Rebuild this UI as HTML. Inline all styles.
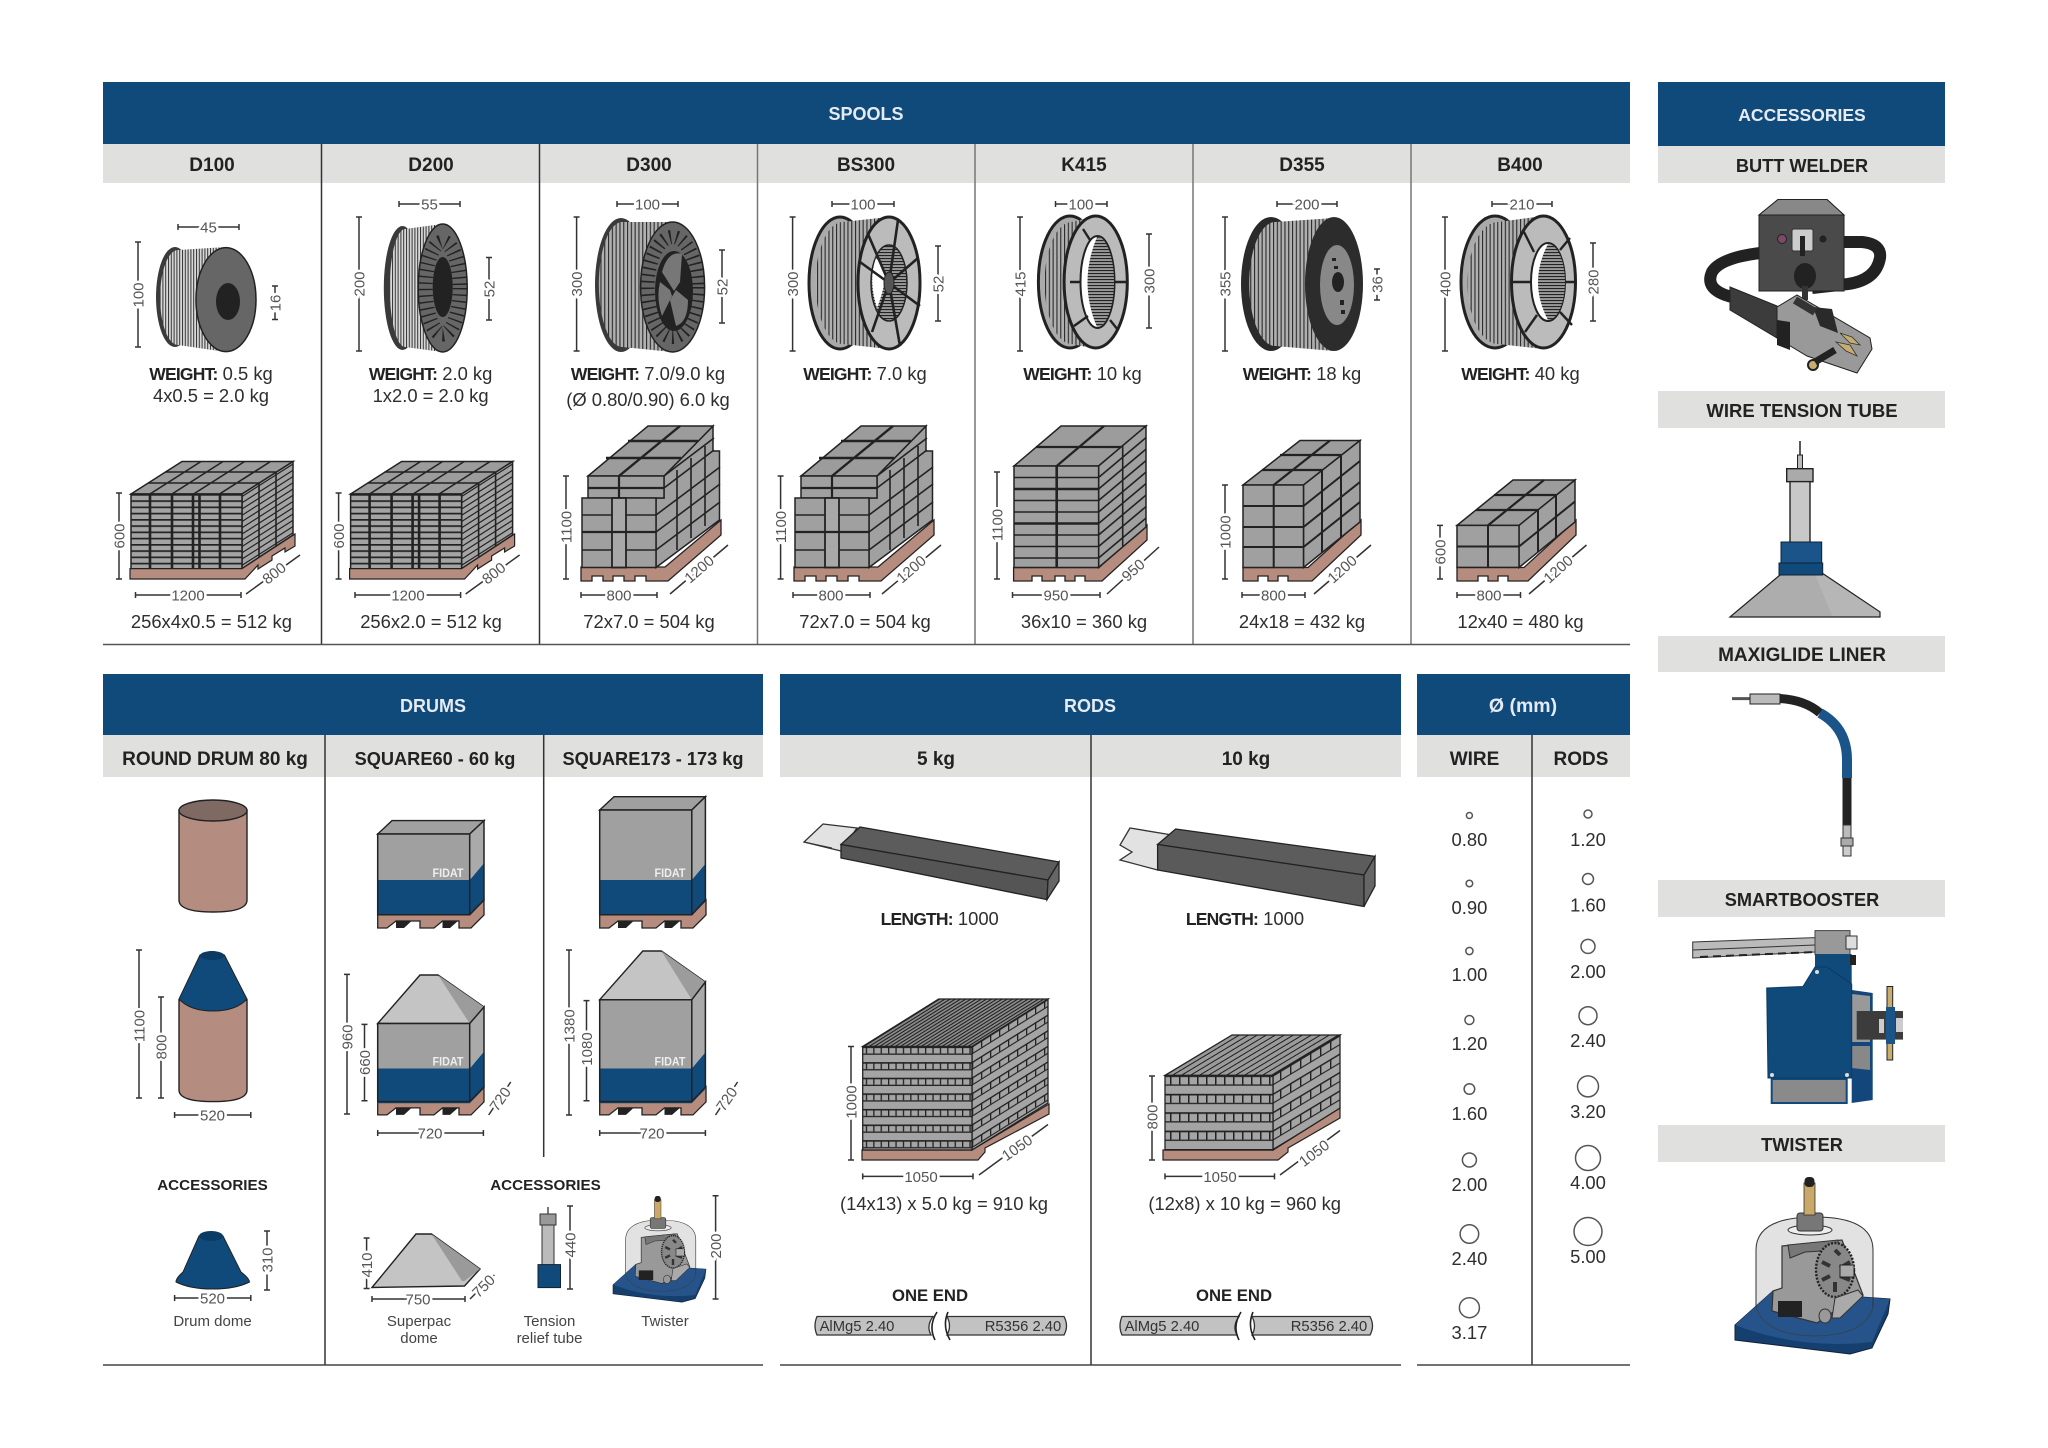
<!DOCTYPE html>
<html><head><meta charset="utf-8"><title>Packaging overview</title>
<style>
html,body{margin:0;padding:0;background:#fff}
svg{display:block}
text{font-family:"Liberation Sans",Arial,sans-serif;fill:#2e2e2e;text-anchor:middle}
.h{font-size:18px;font-weight:bold;fill:#e6ebf1}
.s{font-size:19px;font-weight:bold;fill:#222}
.s2{font-size:18.2px}
.t{font-size:18.4px}
.b{font-weight:bold;fill:#222;font-size:17.5px;letter-spacing:-.8px}
.a{font-size:15.2px;font-weight:bold;fill:#222}
.c{font-size:15px;fill:#444}
.dim{font-size:15px;fill:#555;paint-order:stroke;stroke:#fff;stroke-width:5px}
.d{stroke:#333;stroke-width:1.5;fill:none}
.l{stroke:#222;stroke-width:1.6;fill:none}
.ring{fill:#fff;stroke:#555;stroke-width:1.5}
.f{font-size:12px;font-weight:bold;fill:#eee}
</style></head><body>
<svg xmlns="http://www.w3.org/2000/svg" width="2048" height="1448" viewBox="0 0 2048 1448">
<defs>
<pattern id="r6" width="10" height="6.25" y="494" patternUnits="userSpaceOnUse"><rect width="10" height="6.25" fill="#a4a4a4"/><rect width="10" height="1.7" fill="#222"/></pattern>
<pattern id="s6" width="17" height="6.25" patternUnits="userSpaceOnUse" patternTransform="skewY(-32.5)"><rect width="17" height="6.25" fill="#a4a4a4"/><rect width="17" height="1.4" fill="#222"/></pattern>
<pattern id="w1" width="2.8" height="6" patternUnits="userSpaceOnUse"><rect width="2.8" height="6" fill="#d8d8d8"/><rect width="1" height="6" fill="#333"/></pattern>
<pattern id="w2" width="3.8" height="6" patternUnits="userSpaceOnUse"><rect width="3.8" height="6" fill="#b0b0b0"/><rect width="1.1" height="6" fill="#2a2a2a"/></pattern>
<pattern id="w4" width="3" height="3" patternUnits="userSpaceOnUse"><rect width="3" height="3" fill="#999"/><rect width="3" height="1.1" fill="#222"/></pattern>
<pattern id="rf5" width="7.4" height="15.6" y="1046.5" patternUnits="userSpaceOnUse"><rect width="7.4" height="15.6" fill="#a4a4a4"/><rect width="7.4" height="1.6" fill="#222"/><rect width="1.3" height="7" fill="#222"/><rect y="7" width="7.4" height="1.3" fill="#222"/></pattern>
<pattern id="rs5" width="9" height="15.6" patternUnits="userSpaceOnUse" patternTransform="skewY(-32)"><rect width="9" height="15.6" fill="#a4a4a4"/><rect width="9" height="1.6" fill="#222"/><rect width="1.3" height="7" fill="#222"/><rect y="7" width="9" height="1.3" fill="#222"/></pattern>
<pattern id="rt5" width="5.2" height="10" patternUnits="userSpaceOnUse" patternTransform="skewX(-58)"><rect width="5.2" height="10" fill="#8a8a8a"/><rect width="2" height="10" fill="#222"/></pattern>
<pattern id="rf10" width="9" height="18.4" y="1075.4" patternUnits="userSpaceOnUse"><rect width="9" height="18.4" fill="#a4a4a4"/><rect width="9" height="1.7" fill="#222"/><rect width="1.5" height="9" fill="#222"/><rect y="9" width="9" height="1.3" fill="#222"/></pattern>
<pattern id="rs10" width="10" height="18.4" patternUnits="userSpaceOnUse" patternTransform="skewY(-31)"><rect width="10" height="18.4" fill="#a4a4a4"/><rect width="10" height="1.7" fill="#222"/><rect width="1.4" height="9" fill="#222"/><rect y="9" width="10" height="1.3" fill="#222"/></pattern>
<pattern id="rt10" width="9" height="10" patternUnits="userSpaceOnUse" patternTransform="skewX(-59)"><rect width="9" height="10" fill="#9a9a9a"/><rect width="2" height="10" fill="#222"/></pattern>

<g id="p256">
<polygon points="131,494 182,461.5 293,461.5 242,494" fill="#9c9c9c" stroke="#222" stroke-width="1.5"/>
<path class="l" d="M150 494l51 -32.5M172 494l51 -32.5M193.6 494l51 -32.5M219.5 494l51 -32.5M148 483H259M165 472H276"/>
<polygon points="242,494 293,461.5 293,535 242,568.6" fill="url(#s6)" stroke="#222" stroke-width="1.5"/>
<path class="l" d="M259 483.5v73M276 472.5v73"/>
<rect x="131" y="494" width="111" height="75" fill="url(#r6)" stroke="#222" stroke-width="1.5"/>
<path stroke="#222" stroke-width="2.6" fill="none" d="M150 494v75M172 494v75M193 494v75M199.5 494v75M220 494v75"/>
<path d="M130 568.6H242L295 534V546L285 552V548L272 556V560L258 569V565L245 579H130Z" fill="#b58c7e" stroke="#222" stroke-width="1.2"/>
</g>

<g id="p72">
<path d="M581 567H665L721 520V535L668 581H646V576H635V581H624V576H613V581H603V576H592V581H581Z" fill="#b58c7e" stroke="#222" stroke-width="1.3"/>
<polygon points="656,567.5 656,498 664,498 664,476 713,426 713,451 719.5,451 719.5,520" fill="#a0a0a0" stroke="#222" stroke-width="1.5"/>
<path class="l" d="M656 515l64 -48M656 532l64 -48M656 550l64 -48M664 488l50 -38M664 476l50 -38M677 470v80M691 458v80M705 446v80"/>
<polygon points="588,476 664,476 713,426 648,426" fill="#9c9c9c" stroke="#222" stroke-width="1.5"/>
<path stroke="#222" stroke-width="2.4" fill="none" d="M619 476L680 426M606 458H681M628 441H698"/>
<rect x="588" y="476" width="76" height="22" fill="#a0a0a0" stroke="#222" stroke-width="1.5"/>
<path stroke="#222" stroke-width="2.2" fill="none" d="M619 476v22M588 488h76"/>
<rect x="582" y="498" width="74" height="69.5" fill="#a0a0a0" stroke="#222" stroke-width="1.5"/>
<path class="l" d="M582 515h74M582 532h74M582 550h74"/>
<rect x="612" y="498" width="14" height="69.5" fill="#a8a8a8" stroke="#222" stroke-width="1.8"/>
<path stroke="#222" stroke-width="2.2" d="M582 532h74"/>
</g>

<g id="dpal">
<path d="M377.7 914.7H469.7L484 900V915L471 928H459V921H442.5L434 928H420V921H396L387 928H377.7Z" fill="#b58c7e" stroke="#222" stroke-width="1.3"/>
<path d="M396 921H411.6L404 928H396ZM442.5 921H458L450 928H442.5Z" fill="#222"/>
</g>
<g id="dbody">
<polygon points="377.7,914.7 469.7,914.7 469.7,880 377.7,880" fill="#0f4a7b"/>
<polygon points="469.7,914.7 484,900 484,863 469.7,880" fill="#0f4a7b"/>
<polygon points="469.7,880 484,863 484,820.6 469.7,834" fill="#aaa"/>
<text class="f" x="448" y="877" textLength="31" lengthAdjust="spacingAndGlyphs">FIDAT</text>
</g>

<g id="twister">
<path d="M1756 1307V1250Q1756 1217 1815 1217Q1873 1217 1873 1250V1307Z" fill="#e2e2e2"/>
<path d="M1735 1325L1773 1291L1890 1299L1888 1314L1872 1348L1850 1354L1735 1340Z" fill="#143f6e" stroke="#123" stroke-width="1"/>
<path d="M1735 1325L1773 1291L1890 1299L1872 1342Q1800 1350 1735 1325Z" fill="#26548a"/>
<path d="M1756 1307V1250Q1756 1217 1815 1217Q1873 1217 1873 1250V1307" fill="none" stroke="#333" stroke-width="1"/>
<path d="M1756 1307Q1764 1335 1815 1336Q1866 1335 1873 1307" fill="none" stroke="#345" stroke-width="1"/>
<path d="M1782 1246L1842 1240L1863 1295L1848 1302L1817 1323L1772 1311L1773 1291L1782 1288Z" fill="#999" stroke="#333" stroke-width="1.2"/>
<path d="M1788 1245L1838 1240L1838 1250L1805 1252L1790 1258Z" fill="#777" stroke="#333"/>
<ellipse cx="1835" cy="1270" rx="19" ry="27" fill="#888" stroke="#222" stroke-width="2.4" stroke-dasharray="2 1.5"/>
<path d="M1835 1250L1840 1255M1850 1262L1840 1268M1850 1280L1840 1276M1835 1292V1282M1822 1280L1830 1276M1822 1262L1830 1266" stroke="#333" stroke-width="4"/>
<rect x="1840" y="1265" width="14" height="12" fill="#aaa" stroke="#222"/>
<rect x="1778" y="1301" width="24" height="16" fill="#222"/>
<path d="M1835 1298L1858 1290L1863 1296L1840 1318L1832 1318Z" fill="#aaa" stroke="#333"/>
<ellipse cx="1825" cy="1316" rx="6" ry="7" fill="#999" stroke="#333"/>
<ellipse cx="1810" cy="1230" rx="22" ry="5" fill="#eee" stroke="#333"/>
<rect x="1797" y="1213" width="26" height="18" rx="3" fill="#777" stroke="#333"/>
<rect x="1804" y="1183" width="11" height="32" fill="#c9a86a" stroke="#333" stroke-width=".8"/>
<rect x="1804.5" y="1177" width="10" height="10" rx="4" fill="#222"/>
</g>
</defs>

<!-- header bars -->
<g fill="#0f4a7b">
<rect x="103" y="82" width="1527" height="62"/>
<rect x="1658" y="82" width="287" height="64"/>
<rect x="103" y="674" width="660" height="61"/>
<rect x="780" y="674" width="621" height="61"/>
<rect x="1417" y="674" width="213" height="61"/>
</g>
<g fill="#e0e0df">
<rect x="103" y="144" width="1527" height="39"/>
<rect x="1658" y="146" width="287" height="37"/>
<rect x="1658" y="391" width="287" height="37"/>
<rect x="1658" y="636" width="287" height="36"/>
<rect x="1658" y="880" width="287" height="37"/>
<rect x="1658" y="1125" width="287" height="37"/>
<rect x="103" y="735" width="660" height="42"/>
<rect x="780" y="735" width="621" height="42"/>
<rect x="1417" y="735" width="213" height="42"/>
</g>
<!-- grid lines -->
<g stroke-width="1.5" fill="none">
<path stroke="#333" d="M321.5 144V644M539.5 144V644"/>
<path stroke="#777" d="M757.5 144V644M975 144V644M1193 144V644M1411 144V644"/>
<path stroke="#555" d="M103 644.5H1630"/>
<path stroke="#333" d="M325 735V1365M543.7 735V1157M1091 735V1365M1532 735V1365"/>
<path stroke="#444" d="M103 1365H763M780 1365H1401M1417 1365H1630"/>
</g>

<!-- headers text -->
<text class="h" x="866" y="120">SPOOLS</text>
<text class="h" style="font-size:17.5px" x="1802" y="121">ACCESSORIES</text>
<text class="h" x="433" y="712">DRUMS</text>
<text class="h" x="1090" y="712">RODS</text>
<text class="h" style="font-size:19.5px" x="1523" y="712">Ø (mm)</text>
<g>
<text class="s" x="212" y="171">D100</text>
<text class="s" x="431" y="171">D200</text>
<text class="s" x="649" y="171">D300</text>
<text class="s" x="866" y="171">BS300</text>
<text class="s" x="1084" y="171">K415</text>
<text class="s" x="1302" y="171">D355</text>
<text class="s" x="1520" y="171">B400</text>
<text class="s s2" x="1802" y="172">BUTT WELDER</text>
<text class="s" style="font-size:18.5px" x="1802" y="417">WIRE TENSION TUBE</text>
<text class="s" x="1802" y="661">MAXIGLIDE LINER</text>
<text class="s s2" x="1802" y="906">SMARTBOOSTER</text>
<text class="s s2" x="1802" y="1151">TWISTER</text>
<text class="s" x="215" y="765">ROUND DRUM 80 kg</text>
<text class="s s2" x="435" y="765">SQUARE60 - 60 kg</text>
<text class="s s2" x="653" y="765">SQUARE173 - 173 kg</text>
<text class="s" x="936" y="765">5 kg</text>
<text class="s" x="1246" y="765">10 kg</text>
<text class="s" x="1474.5" y="765">WIRE</text>
<text class="s" x="1581" y="765">RODS</text>
</g>

<!-- SPOOLS -->
<!-- D100 -->
<ellipse cx="175" cy="297" rx="19" ry="50" fill="#3a3a3a"/>
<path d="M178 250A17 45 0 0 0 178 345L226 352V247Z" fill="url(#w1)"/>
<ellipse cx="226" cy="299.6" rx="30" ry="52" fill="#666" stroke="#222" stroke-width="1.5"/>
<ellipse cx="228" cy="301.5" rx="12" ry="18.5" fill="#222"/>
<!-- D200 -->
<ellipse cx="402.5" cy="288" rx="18.7" ry="62" fill="#3a3a3a"/>
<path d="M405 229A15 58 0 0 0 405 347L442 352V224Z" fill="url(#w1)"/>
<ellipse cx="442.7" cy="288" rx="24.5" ry="64" fill="#666" stroke="#222" stroke-width="1.5"/>
<ellipse cx="442.7" cy="288" rx="17.5" ry="46" fill="none" stroke="#222" stroke-width="15" stroke-dasharray="1.4 5"/>
<ellipse cx="442.7" cy="287" rx="10" ry="30" fill="#222"/>
<!-- D300 -->
<ellipse cx="621" cy="285" rx="26" ry="67" fill="#3a3a3a"/>
<path d="M622 222A23 62 0 0 0 622 347L672 352V222Z" fill="url(#w2)"/>
<ellipse cx="672.6" cy="287" rx="32" ry="65" fill="#666" stroke="#222" stroke-width="1.5"/>
<ellipse cx="672.6" cy="287" rx="25" ry="50" fill="none" stroke="#222" stroke-width="14" stroke-dasharray="1.6 5"/>
<ellipse cx="674" cy="291" rx="19" ry="40" fill="#222"/>
<path d="M674 291L662 272Q668 250 682 254L680 282ZM676 290L688 300Q688 322 676 326L670 300ZM670 290L660 282Q656 298 662 316L672 296Z" fill="#777"/>
<!-- BS300 -->
<ellipse cx="840" cy="283" rx="31" ry="66" fill="#aaa" stroke="#222" stroke-width="3"/>
<path d="M843 222A27 60 0 0 0 843 344L888 349V217Z" fill="url(#w2)"/>
<ellipse cx="889" cy="283" rx="31" ry="66" fill="#bbb" stroke="#222" stroke-width="3"/>
<ellipse cx="889" cy="283" rx="18" ry="38" fill="url(#w4)" stroke="#222" stroke-width="1.5"/>
<path d="M876 258Q868 280 877 308Q886 285 885 270Z" fill="#fff"/>
<path d="M889 283L868 234M889 283L898 220M889 283L918 258M889 283L920 306M889 283L900 346M889 283L872 332M889 283L860 262" stroke="#222" stroke-width="2.6"/>
<ellipse cx="889" cy="283" rx="5" ry="11" fill="#555" stroke="#222"/>
<!-- K415 -->
<ellipse cx="1070" cy="282" rx="31.6" ry="66" fill="#aaa" stroke="#222" stroke-width="3"/>
<path d="M1072 222A27 60 0 0 0 1072 344L1096 349V216Z" fill="url(#w2)"/>
<ellipse cx="1095.7" cy="282" rx="31.6" ry="66" fill="#bbb" stroke="#222" stroke-width="3"/>
<ellipse cx="1097.5" cy="282" rx="17" ry="46" fill="#fff" stroke="#222" stroke-width="2"/>
<path d="M1097 237A17 45 0 0 1 1097 327Q1078 282 1097 237Z" fill="url(#w4)"/>
<path d="M1083 229L1090 240M1127 282H1114M1118 330L1110 320M1074 326L1088 316M1070 282H1080" stroke="#222" stroke-width="2.4"/>
<!-- D355 -->
<ellipse cx="1271" cy="284" rx="30" ry="67" fill="#2a2a2a"/>
<path d="M1275 222A25 60 0 0 0 1275 346L1334 351V218Z" fill="url(#w2)"/>
<ellipse cx="1334" cy="284" rx="29" ry="67" fill="#2c2c2c"/>
<ellipse cx="1337" cy="285" rx="17" ry="40" fill="#888"/>
<ellipse cx="1338" cy="282" rx="6" ry="10" fill="#222"/>
<path d="M1334 258v3M1336 266v3M1342 300v5M1343 310v4" stroke="#222" stroke-width="4"/>
<!-- B400 -->
<ellipse cx="1495" cy="282" rx="34" ry="66" fill="#aaa" stroke="#222" stroke-width="3"/>
<path d="M1498 222A30 60 0 0 0 1498 344L1543 349V216Z" fill="url(#w2)"/>
<ellipse cx="1543.5" cy="282" rx="32" ry="66" fill="#bbb" stroke="#222" stroke-width="3"/>
<ellipse cx="1548" cy="282" rx="17" ry="39" fill="#fff" stroke="#222" stroke-width="2"/>
<path d="M1548 244A17 38 0 0 1 1548 320Q1528 282 1548 244Z" fill="url(#w4)"/>
<path d="M1524 232L1534 252M1570 238L1560 250M1575 282H1565M1572 325L1560 312M1525 332L1537 315M1512 282H1531" stroke="#222" stroke-width="2.4"/>

<!-- spool dims -->
<path class="d" d="M178 227H239M178 224v6M239 224v6M138 242V347M135 242h6M135 347h6M275 286V319.5M272 286h6M272 319.5h6"/>
<text class="dim" x="208.5" y="227" dy=".36em">45</text>
<text class="dim" transform="translate(138,295) rotate(-90)" dy=".36em">100</text>
<text class="dim" transform="translate(275,303) rotate(-90)" dy=".36em">16</text>
<path class="d" d="M399 204H460M399 201v6M460 201v6M359 217V351M356 217h6M356 351h6M489 257.5V320M486 257.5h6M486 320h6"/>
<text class="dim" x="429.5" y="204" dy=".36em">55</text>
<text class="dim" transform="translate(359,284) rotate(-90)" dy=".36em">200</text>
<text class="dim" transform="translate(489,289) rotate(-90)" dy=".36em">52</text>
<path class="d" d="M617 204H678M617 201v6M678 201v6M576.6 217V351M573.6 217h6M573.6 351h6M722 250V323M719 250h6M719 323h6"/>
<text class="dim" x="647.5" y="204" dy=".36em">100</text>
<text class="dim" transform="translate(576.6,284) rotate(-90)" dy=".36em">300</text>
<text class="dim" transform="translate(722,287) rotate(-90)" dy=".36em">52</text>
<path class="d" d="M832 204H894M832 201v6M894 201v6M792.6 217V351M789.6 217h6M789.6 351h6M938 246V321M935 246h6M935 321h6"/>
<text class="dim" x="863" y="204" dy=".36em">100</text>
<text class="dim" transform="translate(792.6,284) rotate(-90)" dy=".36em">300</text>
<text class="dim" transform="translate(938,284) rotate(-90)" dy=".36em">52</text>
<path class="d" d="M1055.5 204H1107M1055.5 201v6M1107 201v6M1020 217V351M1017 217h6M1017 351h6M1149 234V328M1146 234h6M1146 328h6"/>
<text class="dim" x="1081" y="204" dy=".36em">100</text>
<text class="dim" transform="translate(1020,284) rotate(-90)" dy=".36em">415</text>
<text class="dim" transform="translate(1149,281) rotate(-90)" dy=".36em">300</text>
<path class="d" d="M1277 204H1337M1277 201v6M1337 201v6M1225 217V351M1222 217h6M1222 351h6M1377 269V300M1374 269h6M1374 300h6"/>
<text class="dim" x="1307" y="204" dy=".36em">200</text>
<text class="dim" transform="translate(1225,284) rotate(-90)" dy=".36em">355</text>
<text class="dim" transform="translate(1377,284.5) rotate(-90)" dy=".36em">36</text>
<path class="d" d="M1492 204H1552M1492 201v6M1552 201v6M1445 217V351M1442 217h6M1442 351h6M1593 243V321M1590 243h6M1590 321h6"/>
<text class="dim" x="1522" y="204" dy=".36em">210</text>
<text class="dim" transform="translate(1445,284) rotate(-90)" dy=".36em">400</text>
<text class="dim" transform="translate(1593,282) rotate(-90)" dy=".36em">280</text>

<!-- weights -->
<text class="t" x="211" y="380"><tspan class="b">WEIGHT:</tspan> 0.5 kg</text>
<text class="t" x="211" y="402">4x0.5 = 2.0 kg</text>
<text class="t" x="430.6" y="380"><tspan class="b">WEIGHT:</tspan> 2.0 kg</text>
<text class="t" x="430.6" y="402">1x2.0 = 2.0 kg</text>
<text class="t" x="648" y="380"><tspan class="b">WEIGHT:</tspan> 7.0/9.0 kg</text>
<text class="t" x="648" y="406">(Ø 0.80/0.90) 6.0 kg</text>
<text class="t" x="865" y="380"><tspan class="b">WEIGHT:</tspan> 7.0 kg</text>
<text class="t" x="1082.5" y="380"><tspan class="b">WEIGHT:</tspan> 10 kg</text>
<text class="t" x="1302" y="380"><tspan class="b">WEIGHT:</tspan> 18 kg</text>
<text class="t" x="1520.5" y="380"><tspan class="b">WEIGHT:</tspan> 40 kg</text>

<!-- pallets -->
<use href="#p256"/>
<use href="#p256" transform="translate(219.6,0)"/>
<use href="#p72"/>
<use href="#p72" transform="translate(213,0)"/>

<!-- K415 pallet -->
<path d="M1013.6 567.5H1099L1147 525V540L1102 581H1085V576H1075V581H1065V576H1055V581H1042V576H1032V581H1013.6Z" fill="#b58c7e" stroke="#222" stroke-width="1.3"/>
<polygon points="1014,466 1098.6,466 1146,426 1061,426" fill="#9c9c9c" stroke="#222" stroke-width="1.5"/>
<path stroke="#222" stroke-width="2.2" fill="none" d="M1056.7 466L1104 426M1036 447H1122"/>
<polygon points="1098.6,466 1146,426 1146,527 1098.6,567.5" fill="#a0a0a0" stroke="#222" stroke-width="1.5"/>
<path class="l" d="M1098.6 477.5l47.5 -40M1098.6 489l47.5 -40M1098.6 500.5l47.5 -40M1098.6 512l47.5 -40M1098.6 523.5l47.5 -40M1098.6 535l47.5 -40M1098.6 546.5l47.5 -40M1098.6 558l47.5 -40M1122.7 446v100"/>
<rect x="1014" y="466" width="84.6" height="101.5" fill="#a0a0a0" stroke="#222" stroke-width="1.5"/>
<path class="l" d="M1014 477.5h84.6M1014 489h84.6M1014 500.5h84.6M1014 512h84.6M1014 523.5h84.6M1014 535h84.6M1014 546.5h84.6M1014 558h84.6"/>
<path stroke="#222" stroke-width="2.6" fill="none" d="M1056.7 466v101.5M1014 489h84.6M1014 523.5h84.6"/>

<!-- D355 pallet -->
<path d="M1243 567.5H1308L1361 520V535L1312 581H1288V576H1278V581H1268V576H1258V581H1243Z" fill="#b58c7e" stroke="#222" stroke-width="1.3"/>
<polygon points="1243,485 1303.5,485 1360,440.5 1300,440.5" fill="#9c9c9c" stroke="#222" stroke-width="1.5"/>
<path stroke="#222" stroke-width="2.2" fill="none" d="M1273.7 485L1330 440.5M1262 470H1322M1280 455H1341"/>
<polygon points="1303.5,485 1360,440.5 1360,522 1303.5,567.5" fill="#a0a0a0" stroke="#222" stroke-width="1.5"/>
<path stroke="#222" stroke-width="2" fill="none" d="M1303.5 506l56.5 -45M1303.5 527l56.5 -45M1303.5 547l56.5 -45M1322 470V552M1341 456V537"/>
<rect x="1243" y="485" width="60.5" height="82.5" fill="#a0a0a0" stroke="#222" stroke-width="1.5"/>
<path stroke="#222" stroke-width="2" fill="none" d="M1273.7 485v82.5M1243 506h60.5M1243 527h60.5M1243 547h60.5"/>

<!-- B400 pallet -->
<path d="M1457 567.5H1524L1576 520V535L1528 581H1508V576H1498V581H1488V576H1478V581H1457Z" fill="#b58c7e" stroke="#222" stroke-width="1.3"/>
<polygon points="1457,525.4 1519,525.4 1575,480 1513,480" fill="#9c9c9c" stroke="#222" stroke-width="1.5"/>
<path stroke="#222" stroke-width="2.2" fill="none" d="M1488 525.4L1544 480M1476 510H1538M1494 495H1556"/>
<polygon points="1519,525.4 1575,480 1575,522 1519,567.5" fill="#a0a0a0" stroke="#222" stroke-width="1.5"/>
<path stroke="#222" stroke-width="2" fill="none" d="M1519 546.5l56 -45M1538 510V552M1556 495V537"/>
<rect x="1457" y="525.4" width="62" height="42" fill="#a0a0a0" stroke="#222" stroke-width="1.5"/>
<path stroke="#222" stroke-width="2" fill="none" d="M1488 525.4v42M1457 546.5h62"/>

<!-- pallet dims -->
<path class="d" d="M119 493V579M116 493h6M116 579h6M135.5 595H241M135.5 592v6M241 592v6M246 594L300 555"/>
<text class="dim" transform="translate(119,536) rotate(-90)" dy=".36em">600</text>
<text class="dim" x="188" y="595" dy=".36em">1200</text>
<text class="dim" transform="translate(274,573) rotate(-38)" dy=".36em">800</text>
<text class="t" x="211.4" y="628">256x4x0.5 = 512 kg</text>
<path class="d" d="M338.6 493V579M335.6 493h6M335.6 579h6M355 595H460.6M355 592v6M460.6 592v6M465.6 594L519.6 555"/>
<text class="dim" transform="translate(338.6,536) rotate(-90)" dy=".36em">600</text>
<text class="dim" x="408" y="595" dy=".36em">1200</text>
<text class="dim" transform="translate(493.6,573) rotate(-38)" dy=".36em">800</text>
<text class="t" x="431" y="628">256x2.0 = 512 kg</text>
<path class="d" d="M566 476V579M563 476h6M563 579h6M581 595H657M581 592v6M657 592v6M670 594L728 545"/>
<text class="dim" transform="translate(699,569) rotate(-41)" dy=".36em">1200</text>
<text class="dim" transform="translate(566,527) rotate(-90)" dy=".36em">1100</text>
<text class="dim" x="619" y="595" dy=".36em">800</text>
<text class="t" x="649" y="628">72x7.0 = 504 kg</text>
<path class="d" d="M780.6 476V579M777.6 476h6M777.6 579h6M793 595H870M793 592v6M870 592v6M882 594L941 545"/>
<text class="dim" transform="translate(780.6,527) rotate(-90)" dy=".36em">1100</text>
<text class="dim" x="831" y="595" dy=".36em">800</text>
<text class="dim" transform="translate(911,569) rotate(-41)" dy=".36em">1200</text>
<text class="t" x="865" y="628">72x7.0 = 504 kg</text>
<path class="d" d="M997 472V579M994 472h6M994 579h6M1012.5 595H1100M1012.5 592v6M1100 592v6M1107 594L1159 547"/>
<text class="dim" transform="translate(997,525) rotate(-90)" dy=".36em">1100</text>
<text class="dim" x="1056" y="595" dy=".36em">950</text>
<text class="dim" transform="translate(1133,570) rotate(-42)" dy=".36em">950</text>
<text class="t" x="1084" y="628">36x10 = 360 kg</text>
<path class="d" d="M1225 485V579M1222 485h6M1222 579h6M1242 595H1305M1242 592v6M1305 592v6M1314 594L1371 545"/>
<text class="dim" transform="translate(1225,532) rotate(-90)" dy=".36em">1000</text>
<text class="dim" x="1273.5" y="595" dy=".36em">800</text>
<text class="dim" transform="translate(1342,569) rotate(-42)" dy=".36em">1200</text>
<text class="t" x="1302" y="628">24x18 = 432 kg</text>
<path class="d" d="M1440 525.4V579M1437 525.4h6M1437 579h6M1457 595H1520.5M1457 592v6M1520.5 592v6M1529 594L1586.5 545"/>
<text class="dim" transform="translate(1440,552) rotate(-90)" dy=".36em">600</text>
<text class="dim" x="1489" y="595" dy=".36em">800</text>
<text class="dim" transform="translate(1558,569) rotate(-42)" dy=".36em">1200</text>
<text class="t" x="1520.5" y="628">12x40 = 480 kg</text>

<!-- BUTT WELDER -->
<path d="M1760 253Q1720 258 1712 272Q1704 290 1732 297" fill="none" stroke="#222" stroke-width="12"/>
<path d="M1844 242H1862Q1882 244 1880 258Q1876 280 1848 284L1812 288" fill="none" stroke="#222" stroke-width="12"/>
<polygon points="1759,215 1778,199.5 1827,199.5 1844,215 1844,291 1759,291" fill="#4a4a4a" stroke="#222"/>
<polygon points="1759,215 1778,199.5 1827,199.5 1844,215" fill="#888" stroke="#222"/>
<circle cx="1782" cy="239" r="4.5" fill="#7a4a66" stroke="#222"/>
<circle cx="1823" cy="239" r="3.5" fill="#222"/>
<rect x="1792" y="229" width="21" height="22" rx="2" fill="#ccc" stroke="#333"/>
<rect x="1800" y="236" width="5" height="20" fill="#222"/>
<ellipse cx="1805" cy="276" rx="11" ry="13" fill="#222"/>
<rect x="1802" y="286" width="6" height="14" fill="#333"/>
<polygon points="1730,287 1777,306 1777,338 1730,310" fill="#3c3c3c" stroke="#222"/>
<polygon points="1777,307 1797,295 1870,338 1872,349 1857,373 1807,356 1777,338" fill="#999" stroke="#222"/>
<polygon points="1813,307 1832,309 1838,333 1820,326" fill="#2a2a2a"/>
<path d="M1795 300L1815 312" stroke="#333" stroke-width="8"/>
<path d="M1777 320V345L1790 350V322Z" fill="#222"/>
<path d="M1840 333L1852 337L1860 345L1850 343ZM1836 342L1850 345L1857 356L1846 351Z" fill="#c8ad70" stroke="#333" stroke-width=".8"/>
<circle cx="1813" cy="365" r="5" fill="#c8ad70" stroke="#222" stroke-width="2"/>
<path d="M1815 362L1835 350" stroke="#222" stroke-width="7"/>

<!-- WIRE TENSION TUBE -->
<path d="M1800 441V467" stroke="#222" stroke-width="1.5"/>
<rect x="1797.5" y="455" width="5" height="14" fill="#bbb" stroke="#222"/>
<rect x="1786.7" y="468.7" width="26.3" height="13" fill="#aaa" stroke="#222" stroke-width="1.4"/>
<rect x="1790" y="481.6" width="20" height="62" fill="#c8c8c8" stroke="#222" stroke-width="1.4"/>
<polygon points="1730,617 1780,575 1822,573 1880,612 1880,617" fill="#adadad" stroke="#222" stroke-width="1.2"/>
<polygon points="1815,574 1832,616 1879,616 1879,612 1822,574" fill="#b6b6b6"/>
<rect x="1781" y="542" width="40.7" height="22" fill="#1a5488" stroke="#123" stroke-width="1"/>
<rect x="1779" y="563" width="43.7" height="12" fill="#0f4a7b" stroke="#123" stroke-width="1"/>

<!-- MAXIGLIDE -->
<path d="M1732 698.6H1750" stroke="#555" stroke-width="3"/>
<rect x="1750" y="694" width="30" height="10" fill="#bbb" stroke="#222"/>
<path d="M1780 698.5Q1805 700 1820 713" fill="none" stroke="#222" stroke-width="9"/>
<path d="M1820 713Q1847 728 1847 760V778" fill="none" stroke="#1a5488" stroke-width="10"/>
<path d="M1847 778V825" stroke="#222" stroke-width="9"/>
<rect x="1843" y="825" width="8" height="16" fill="#bbb" stroke="#333"/>
<rect x="1841" y="838" width="12" height="8" fill="#aaa" stroke="#333"/>
<rect x="1843" y="846" width="8" height="10" fill="#ccc" stroke="#333"/>

<!-- SMARTBOOSTER -->
<polygon points="1692.7,942 1815,937.6 1815,952 1692.7,958" fill="#bbb" stroke="#333"/>
<path d="M1692.7 950L1815 945" stroke="#333" stroke-width="1"/>
<path d="M1700 957L1815 952" stroke="#222" stroke-width="2" stroke-dasharray="8 5"/>
<rect x="1815" y="930.6" width="35" height="24" fill="#999" stroke="#444"/>
<rect x="1846" y="936" width="11" height="13" fill="#ddd" stroke="#333"/>
<polygon points="1815,954 1851.7,954 1851.7,990 1815,984" fill="#0f4a7b"/>
<rect x="1850" y="955" width="6" height="10" fill="#222"/>
<polygon points="1851.7,990 1872.7,993 1872.7,1100 1851.7,1103" fill="#13467a"/>
<polygon points="1851.7,994 1870,996 1870,1042 1851.7,1042" fill="#999"/>
<polygon points="1851.7,1046 1870,1046 1870,1070 1851.7,1068" fill="#888"/>
<polygon points="1771.7,1079 1846.7,1079 1846.7,1103 1771.7,1103" fill="#8a8a8a" stroke="#0f4a7b" stroke-width="2"/>
<polygon points="1766.7,988 1803,986.5 1815,967 1827,967 1851.7,984 1851.7,1078 1768,1078" fill="#0f4a7b" stroke="#0b3a63"/>
<circle cx="1817" cy="972" r="2" fill="#ddd"/><circle cx="1772" cy="1075" r="2" fill="#ddd"/><circle cx="1847" cy="1075" r="2" fill="#ddd"/>
<rect x="1856.7" y="1011" width="46.3" height="28.6" fill="#3c3c3c"/>
<rect x="1879" y="1019" width="5" height="14" fill="#ccc"/>
<rect x="1896" y="1018" width="7" height="14" fill="#ccc"/>
<rect x="1887" y="986.5" width="5.7" height="73.5" fill="#c8ad70" stroke="#222"/>
<rect x="1886" y="1007" width="9" height="37" fill="#1a5488"/>

<!-- TWISTER -->
<use href="#twister"/>

<!-- DRUMS -->
<path d="M179 810.5V900Q179 912 213 912Q247 912 247 900V810.5Z" fill="#b58d80" stroke="#222" stroke-width="1.4"/>
<ellipse cx="213" cy="810.5" rx="34" ry="10.5" fill="#7f6a63" stroke="#222" stroke-width="1.4"/>
<path d="M179 1000V1090Q179 1101.6 213 1101.6Q247 1101.6 247 1090V1000Z" fill="#b58d80" stroke="#222" stroke-width="1.4"/>
<path d="M200 955L179 999Q190 1011 213 1011Q236 1011 247 999L224.4 955Q212 948 200 955Z" fill="#0f4a7b" stroke="#222" stroke-width="1"/>
<ellipse cx="212" cy="955.6" rx="12" ry="4.5" fill="#0b3a63"/>
<path class="d" d="M139 950V1098M136 950h6M136 1098h6M161 997V1098M158 997h6M158 1098h6M174.6 1115H250.8M174.6 1112v6M250.8 1112v6"/>
<text class="dim" transform="translate(139,1026) rotate(-90)" dy=".36em">1100</text>
<text class="dim" transform="translate(161,1047) rotate(-90)" dy=".36em">800</text>
<text class="dim" x="212.5" y="1115" dy=".36em">520</text>

<!-- square60 top -->
<polygon points="377.7,834 392,820.6 484,820.6 469.7,834" fill="#a0a0a0" stroke="#222" stroke-width="1.4"/>
<rect x="377.7" y="834" width="92" height="46" fill="#a0a0a0"/>
<use href="#dpal"/><use href="#dbody"/>
<path d="M377.7 834H469.7V914.7H377.7ZM469.7 834L484 820.6V900L469.7 914.7" fill="none" stroke="#222" stroke-width="1.5"/>
<!-- square60 bottom -->
<polygon points="377.7,1023.5 420,975 438,975 484,1007 469.7,1023.5" fill="#c4c4c4" stroke="#222" stroke-width="1.4"/>
<polygon points="438,975 484,1007 469.7,1023.5" fill="#9c9c9c"/>
<rect x="377.7" y="1023.5" width="92" height="45" fill="#a0a0a0"/>
<use href="#dpal" transform="translate(0,186.9)"/><use href="#dbody" transform="translate(0,188.5)"/>
<polygon points="469.7,1023.5 484,1007 484,1051 469.7,1068.5" fill="#aaa"/>
<path d="M377.7 1023.5H469.7V1101.6H377.7ZM469.7 1023.5L484 1007V1087L469.7 1101.6" fill="none" stroke="#222" stroke-width="1.5"/>
<path class="d" d="M347 974.4V1114M344 974.4h6M344 1114h6M364.5 1024.4V1100.7M361.5 1024.4h6M361.5 1100.7h6M377.7 1133H483.4M377.7 1130v6M483.4 1130v6M488.7 1115L510.7 1082"/>
<text class="dim" transform="translate(347,1037) rotate(-90)" dy=".36em">960</text>
<text class="dim" transform="translate(364.5,1062.5) rotate(-90)" dy=".36em">660</text>
<text class="dim" x="430" y="1133" dy=".36em">720</text>
<text class="dim" transform="translate(500,1099) rotate(-55)" dy=".36em">720</text>

<!-- square173 top -->
<polygon points="599.7,810 614,796.7 705.4,796.7 691.8,810" fill="#a0a0a0" stroke="#222" stroke-width="1.4"/>
<rect x="599.7" y="810" width="92" height="70" fill="#a0a0a0"/>
<polygon points="691.8,810 705.4,796.7 705.4,863 691.8,880" fill="#aaa"/>
<use href="#dpal" transform="translate(222,0)"/><use href="#dbody" transform="translate(222,0)"/>
<path d="M599.7 810H691.8V914.7H599.7ZM691.8 810L705.4 796.7V900L691.8 914.7" fill="none" stroke="#222" stroke-width="1.5"/>
<!-- square173 bottom -->
<polygon points="599.7,999.7 642.8,951 661.3,951 705.4,982 691.8,999.7" fill="#c4c4c4" stroke="#222" stroke-width="1.4"/>
<polygon points="661.3,951 705.4,982 691.8,999.7" fill="#9c9c9c"/>
<rect x="599.7" y="999.7" width="92" height="69" fill="#a0a0a0"/>
<polygon points="691.8,999.7 705.4,982 705.4,1051 691.8,1068.5" fill="#aaa"/>
<use href="#dpal" transform="translate(222,186.9)"/><use href="#dbody" transform="translate(222,188.5)"/>
<path d="M599.7 999.7H691.8V1101.6H599.7ZM691.8 999.7L705.4 982V1087L691.8 1101.6" fill="none" stroke="#222" stroke-width="1.5"/>
<path class="d" d="M569 950V1115M566 950h6M566 1115h6M586.5 1000.6V1100.7M583.5 1000.6h6M583.5 1100.7h6M599.7 1133H705.4M599.7 1130v6M705.4 1130v6M715.5 1115L737.6 1082"/>
<text class="dim" transform="translate(569,1026) rotate(-90)" dy=".36em">1380</text>
<text class="dim" transform="translate(586.5,1049) rotate(-90)" dy=".36em">1080</text>
<text class="dim" x="652" y="1133" dy=".36em">720</text>
<text class="dim" transform="translate(726.6,1099) rotate(-55)" dy=".36em">720</text>

<text class="a" x="212.5" y="1190">ACCESSORIES</text>
<text class="a" x="545.5" y="1190">ACCESSORIES</text>

<!-- drum dome -->
<path d="M199 1236L183 1272Q176 1278 176 1282Q190 1289 212 1289Q236 1289 249.5 1282Q249 1278 241 1272L223 1236Z" fill="#0f4a7b" stroke="#222" stroke-width="1"/>
<ellipse cx="211" cy="1236" rx="12" ry="5" fill="#0b3a63"/>
<path class="d" d="M267 1231V1290M264 1231h6M264 1290h6M174.6 1298H250.8M174.6 1295v6M250.8 1295v6"/>
<text class="dim" transform="translate(267,1260) rotate(-90)" dy=".36em">310</text>
<text class="dim" x="212.5" y="1298" dy=".36em">520</text>
<text class="c" x="212.5" y="1326">Drum dome</text>

<!-- superpac dome -->
<polygon points="372,1287.5 416,1234 431.5,1234 480,1269 464.5,1286" fill="#c4c4c4" stroke="#222" stroke-width="1.4"/>
<polygon points="431.5,1234 480,1269 464.5,1281 462,1281" fill="#9a9a9a"/>
<path class="d" d="M366.6 1238V1288.5M363.6 1238h6M363.6 1288.5h6M372 1299H465M372 1296v6M465 1296v6M470 1299L494.4 1275"/>
<text class="dim" transform="translate(366.6,1265) rotate(-90)" dy=".36em">410</text>
<text class="dim" x="418" y="1299" dy=".36em">750</text>
<text class="dim" transform="translate(483.4,1286) rotate(-45)" dy=".36em">750</text>
<text class="c" x="419" y="1326">Superpac</text>
<text class="c" x="419" y="1343">dome</text>

<!-- small tube -->
<path d="M548 1207V1216" stroke="#222" stroke-width="1.2"/>
<rect x="540" y="1214" width="16" height="11" fill="#999" stroke="#333"/>
<rect x="542" y="1225" width="12" height="40" fill="#bbb" stroke="#333"/>
<rect x="538" y="1264.6" width="22.5" height="23" fill="#0f4a7b" stroke="#123"/>
<path class="d" d="M570 1206V1289M567 1206h6M567 1289h6"/>
<text class="dim" transform="translate(570,1245) rotate(-90)" dy=".36em">440</text>
<text class="c" x="549.5" y="1326">Tension</text>
<text class="c" x="549.5" y="1343">relief tube</text>

<!-- small twister -->
<use href="#twister" transform="matrix(.6 0 0 .6 -428 489.8)"/>
<path class="d" d="M715.6 1195.7V1299M712.6 1195.7h6M712.6 1299h6"/>
<text class="dim" transform="translate(715.6,1246) rotate(-90)" dy=".36em">200</text>
<text class="c" x="665" y="1326">Twister</text>

<!-- RODS -->
<polygon points="823,824 857,828 841,851 804,842" fill="#e2e2e2" stroke="#333" stroke-width="1.3"/>
<path d="M804 842L832 848" stroke="#333"/>
<polygon points="860,827 1059,862 1048,880 841,844.5" fill="#5c5c5c" stroke="#222" stroke-width="1.3"/>
<polygon points="841,844.5 1048,880 1047,899.6 841,858" fill="#555" stroke="#222" stroke-width="1.3"/>
<polygon points="1059,862 1059,881 1047,899.6 1048,880" fill="#666" stroke="#222" stroke-width="1.3"/>

<polygon points="1130,828 1172,835 1157.6,870 1120,860 1132,852 1120,845" fill="#e2e2e2" stroke="#333" stroke-width="1.3"/>
<polygon points="1175.6,829 1375,856.4 1364,875 1157.6,844.5" fill="#5c5c5c" stroke="#222" stroke-width="1.3"/>
<polygon points="1157.6,844.5 1364,875 1364,906.5 1157.6,870" fill="#5a5a5a" stroke="#222" stroke-width="1.3"/>
<polygon points="1375,856.4 1375,886 1364,906.5 1364,875" fill="#666" stroke="#222" stroke-width="1.3"/>

<text class="t" x="939.7" y="925"><tspan class="b">LENGTH:</tspan> 1000</text>
<text class="t" x="1245" y="925"><tspan class="b">LENGTH:</tspan> 1000</text>

<!-- rod pallet 5kg -->
<path d="M862 1150H972L1049 1104V1114L985 1148V1152L978 1160H862Z" fill="#b58c7e" stroke="#222" stroke-width="1.2"/>
<polygon points="862.7,1046.5 972,1046.5 1048,999 938.7,999" fill="url(#rt5)" stroke="#222" stroke-width="1.3"/>
<polygon points="972,1046.5 1048,999 1048,1103 972,1150" fill="url(#rs5)" stroke="#222" stroke-width="1.3"/>
<rect x="862.7" y="1046.5" width="109.3" height="103.5" fill="url(#rf5)" stroke="#222" stroke-width="1.3"/>
<path class="d" d="M851 1046.5V1160M848 1046.5h6M848 1160h6M862.7 1176.4H973M862.7 1173.4v6M973 1173.4v6M979 1175L1048 1124.5"/>
<text class="dim" transform="translate(851,1102) rotate(-90)" dy=".36em">1000</text>
<text class="dim" x="921" y="1176.4" dy=".36em">1050</text>
<text class="dim" transform="translate(1017,1147.5) rotate(-35)" dy=".36em">1050</text>
<text class="t" x="944" y="1210">(14x13) x 5.0 kg = 910 kg</text>

<!-- rod pallet 10kg -->
<path d="M1163 1150H1273L1340 1108V1118L1288 1148V1152L1278 1160H1163Z" fill="#b58c7e" stroke="#222" stroke-width="1.2"/>
<polygon points="1165,1075.4 1273,1075.4 1340,1035 1232,1035" fill="url(#rt10)" stroke="#222" stroke-width="1.3"/>
<polygon points="1273,1075.4 1340,1035 1340,1108 1273,1150" fill="url(#rs10)" stroke="#222" stroke-width="1.3"/>
<rect x="1165" y="1075.4" width="108" height="74.6" fill="url(#rf10)" stroke="#222" stroke-width="1.3"/>
<path class="d" d="M1152 1076V1160M1149 1076h6M1149 1160h6M1165 1176.4H1274.5M1165 1173.4v6M1274.5 1173.4v6M1280 1175L1340 1130.5"/>
<text class="dim" transform="translate(1152,1117) rotate(-90)" dy=".36em">800</text>
<text class="dim" x="1220" y="1176.4" dy=".36em">1050</text>
<text class="dim" transform="translate(1314,1153) rotate(-37)" dy=".36em">1050</text>
<text class="t" x="1244.7" y="1210">(12x8) x 10 kg = 960 kg</text>

<text class="a" style="font-size:16.7px" x="930" y="1301">ONE END</text>
<text class="a" style="font-size:16.7px" x="1234" y="1301">ONE END</text>
<g fill="#c2c2c2" stroke="#333" stroke-width="1.3">
<path d="M817 1316.5H933Q926 1326 931 1335H817Q813 1326 817 1316.5Z"/>
<path d="M947 1316.5H1064Q1069 1326 1064 1335H947Q952 1326 947 1316.5Z"/>
<path d="M1122 1316.5H1239Q1232 1326 1237 1335H1122Q1118 1326 1122 1316.5Z"/>
<path d="M1252 1316.5H1370Q1375 1326 1370 1335H1252Q1257 1326 1252 1316.5Z"/>
</g>
<g fill="none" stroke="#222" stroke-width="1.6">
<path d="M937 1312Q928 1326 935 1340M948 1312Q942 1326 950 1340M1241 1312Q1232 1326 1239 1340M1253 1312Q1247 1326 1255 1340"/>
</g>
<g>
<text style="font-size:14.8px;fill:#333" x="857" y="1331">AlMg5 2.40</text>
<text style="font-size:14.8px;fill:#333" x="1023" y="1331">R5356 2.40</text>
<text style="font-size:14.8px;fill:#333" x="1162" y="1331">AlMg5 2.40</text>
<text style="font-size:14.8px;fill:#333" x="1329" y="1331">R5356 2.40</text>
</g>

<!-- Diameters -->
<circle class="ring" cx="1469.4" cy="815.5" r="3"/><text class="t" x="1469.4" y="846">0.80</text>
<circle class="ring" cx="1469.4" cy="883.5" r="3.3"/><text class="t" x="1469.4" y="914">0.90</text>
<circle class="ring" cx="1469.4" cy="951" r="3.6"/><text class="t" x="1469.4" y="981">1.00</text>
<circle class="ring" cx="1469.4" cy="1020" r="4.5"/><text class="t" x="1469.4" y="1050">1.20</text>
<circle class="ring" cx="1469.4" cy="1089" r="5.3"/><text class="t" x="1469.4" y="1120">1.60</text>
<circle class="ring" cx="1469.4" cy="1160" r="7"/><text class="t" x="1469.4" y="1191">2.00</text>
<circle class="ring" cx="1469.4" cy="1234" r="9.3"/><text class="t" x="1469.4" y="1265">2.40</text>
<circle class="ring" cx="1469.4" cy="1307.7" r="10"/><text class="t" x="1469.4" y="1339">3.17</text>

<circle class="ring" cx="1588" cy="814" r="4"/><text class="t" x="1588" y="846">1.20</text>
<circle class="ring" cx="1588" cy="879" r="5.5"/><text class="t" x="1588" y="911.5">1.60</text>
<circle class="ring" cx="1588" cy="946.4" r="7"/><text class="t" x="1588" y="978">2.00</text>
<circle class="ring" cx="1588" cy="1015.7" r="9"/><text class="t" x="1588" y="1047">2.40</text>
<circle class="ring" cx="1588" cy="1086.4" r="10.5"/><text class="t" x="1588" y="1118">3.20</text>
<circle class="ring" cx="1588" cy="1158" r="12.5"/><text class="t" x="1588" y="1189">4.00</text>
<circle class="ring" cx="1588" cy="1231.5" r="14"/><text class="t" x="1588" y="1263">5.00</text>
</svg>
</body></html>
